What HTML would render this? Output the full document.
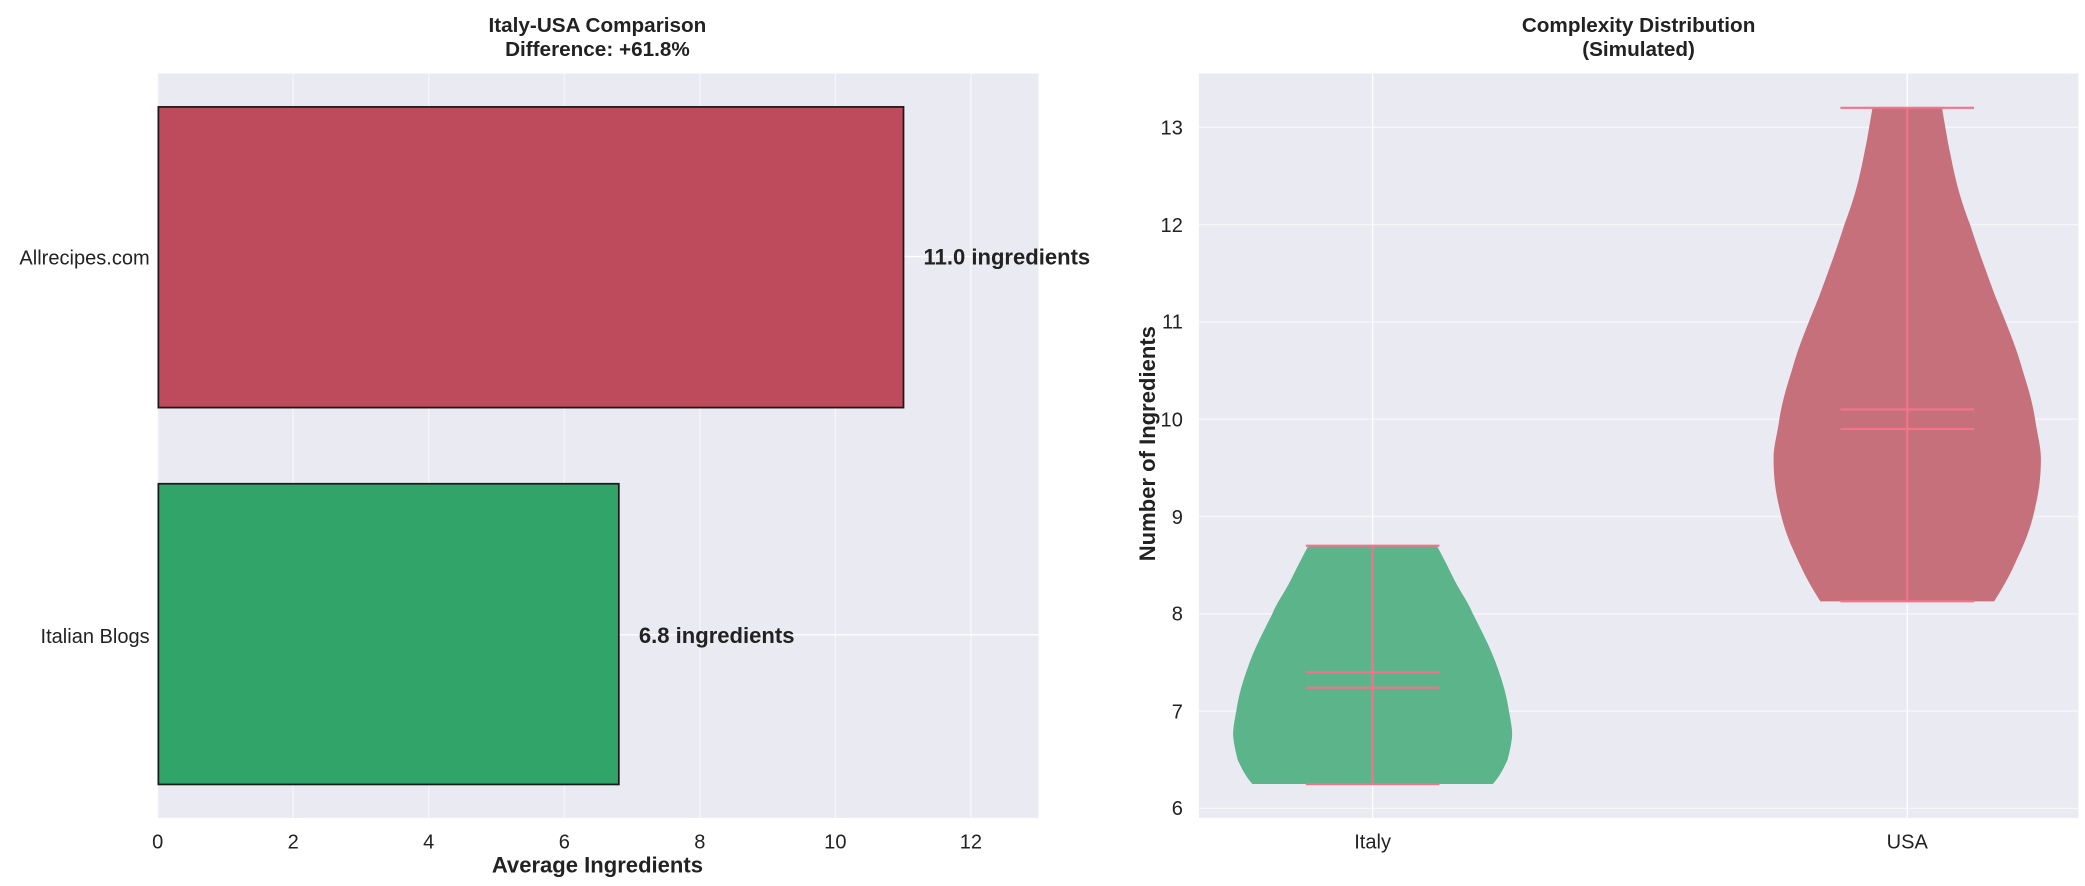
<!DOCTYPE html>
<html><head><meta charset="utf-8"><style>html,body{margin:0;padding:0;background:#fff}svg{display:block}</style></head>
<body>
<svg width="2085" height="886" viewBox="0 0 1560 663" preserveAspectRatio="none" xmlns="http://www.w3.org/2000/svg" font-family="Liberation Sans, Arial, sans-serif">
<!-- LEFT -->
<rect x="118" y="55" width="659" height="557" fill="#eaeaf2"/>
<g stroke="#fff" stroke-width="1" stroke-opacity="0.55">
<line x1="118" y1="55" x2="118" y2="612"/><line x1="219.4" y1="55" x2="219.4" y2="612"/><line x1="320.8" y1="55" x2="320.8" y2="612"/><line x1="422.2" y1="55" x2="422.2" y2="612"/><line x1="523.6" y1="55" x2="523.6" y2="612"/><line x1="625" y1="55" x2="625" y2="612"/><line x1="726.4" y1="55" x2="726.4" y2="612"/>
</g>
<g stroke="#fff" stroke-width="1">
<line x1="118" y1="192" x2="777" y2="192"/><line x1="118" y1="475" x2="777" y2="475"/>
</g>
<rect x="118.5" y="80" width="557.5" height="225" fill="#bd4b5b" stroke="#1a1a1a" stroke-width="1.3"/>
<rect x="118.5" y="362" width="344.5" height="225" fill="#31a46a" stroke="#1a1a1a" stroke-width="1.3"/>
<g font-size="16.5" font-weight="bold" fill="#222">
<text x="691" y="198">11.0 ingredients</text>
<text x="478" y="481">6.8 ingredients</text>
</g>
<g font-size="15" fill="#222" text-anchor="end">
<text x="112" y="198">Allrecipes.com</text>
<text x="112" y="481">Italian Blogs</text>
</g>
<g font-size="15" fill="#222" text-anchor="middle">
<text x="118" y="635">0</text><text x="219.4" y="635">2</text><text x="320.8" y="635">4</text><text x="422.2" y="635">6</text><text x="523.6" y="635">8</text><text x="625" y="635">10</text><text x="726.4" y="635">12</text>
</g>
<text x="447" y="653" font-size="16.5" font-weight="bold" text-anchor="middle" fill="#222">Average Ingredients</text>
<text x="447" y="24" font-size="15.5" font-weight="bold" text-anchor="middle" fill="#222">Italy-USA Comparison</text>
<text x="447" y="42" font-size="15.5" font-weight="bold" text-anchor="middle" fill="#222">Difference: +61.8%</text>

<!-- RIGHT -->
<rect x="897" y="55" width="658" height="557" fill="#eaeaf2"/>
<g stroke="#fff" stroke-width="1" stroke-opacity="0.6">
<line x1="897" y1="95.3" x2="1555" y2="95.3"/><line x1="897" y1="168.1" x2="1555" y2="168.1"/><line x1="897" y1="240.9" x2="1555" y2="240.9"/><line x1="897" y1="313.7" x2="1555" y2="313.7"/><line x1="897" y1="386.5" x2="1555" y2="386.5"/><line x1="897" y1="459.3" x2="1555" y2="459.3"/><line x1="897" y1="532.1" x2="1555" y2="532.1"/><line x1="897" y1="604.9" x2="1555" y2="604.9"/>
</g>
<g stroke="#fff" stroke-width="1">
<line x1="1027" y1="55" x2="1027" y2="612"/><line x1="1427" y1="55" x2="1427" y2="612"/>
</g>
<path d="M979,408.3 C970,425 968,430 964,437.5 C958,448 955,452 952,459.3 C943,477 939,485 935,495.7 C929,512 927,520 925,532.1 C923,543 922,548 923,553.9 C924,561 925,564 926,568.5 C929,575 932,581 937,586.7 L1117,586.7 C1122,581 1125,575 1128,568.5 C1129,564 1130,561 1131,553.9 C1132,548 1131,543 1129,532.1 C1127,520 1125,512 1119,495.7 C1115,485 1111,477 1102,459.3 C1099,452 1096,448 1090,437.5 C1086,430 1084,425 1075,408.3 Z" fill="#5cb48a"/>
<path d="M1401,80.7 C1398,98 1397,105 1395,114 C1390,140 1386,152 1380,168 C1374,187 1368,203 1361,222 C1353,242 1346,258 1341,276 C1336,292 1333,302 1331,316 C1329,328 1327,335 1327,343 C1327,360 1329,370 1332,383 C1336,400 1341,410 1347,423 C1352,434 1357,442 1362,450 L1492,450 C1497,442 1502,434 1507,423 C1513,410 1518,400 1522,383 C1525,370 1527,360 1527,343 C1527,335 1525,328 1523,316 C1521,302 1518,292 1513,276 C1508,258 1501,242 1493,222 C1486,203 1480,187 1474,168 C1468,152 1464,140 1459,114 C1457,105 1456,98 1453,80.7 Z" fill="#c6707c"/>
<g stroke="#f4738b" stroke-width="1.6">
<line x1="1027" y1="408.3" x2="1027" y2="586.7"/>
<line x1="977" y1="408.3" x2="1077" y2="408.3"/><line x1="977" y1="586.7" x2="1077" y2="586.7"/>
<line x1="977" y1="503" x2="1077" y2="503"/><line x1="977" y1="514.6" x2="1077" y2="514.6"/>
<line x1="1427" y1="80.7" x2="1427" y2="450"/>
<line x1="1377" y1="80.7" x2="1477" y2="80.7"/><line x1="1377" y1="450" x2="1477" y2="450"/>
<line x1="1377" y1="306.4" x2="1477" y2="306.4"/><line x1="1377" y1="321" x2="1477" y2="321"/>
</g>
<g font-size="15" fill="#222" text-anchor="end">
<text x="885" y="100.5">13</text><text x="885" y="173.5">12</text><text x="885" y="246">11</text><text x="885" y="319">10</text><text x="885" y="392">9</text><text x="885" y="464.5">8</text><text x="885" y="537.5">7</text><text x="885" y="610">6</text>
</g>
<g font-size="15" fill="#222" text-anchor="middle">
<text x="1027" y="635">Italy</text><text x="1427" y="635">USA</text>
</g>
<text transform="translate(864,332) rotate(-90)" font-size="16.5" font-weight="bold" text-anchor="middle" fill="#222">Number of Ingredients</text>
<text x="1226" y="24" font-size="15.5" font-weight="bold" text-anchor="middle" fill="#222">Complexity Distribution</text>
<text x="1226" y="42" font-size="15.5" font-weight="bold" text-anchor="middle" fill="#222">(Simulated)</text>
</svg>
</body></html>
